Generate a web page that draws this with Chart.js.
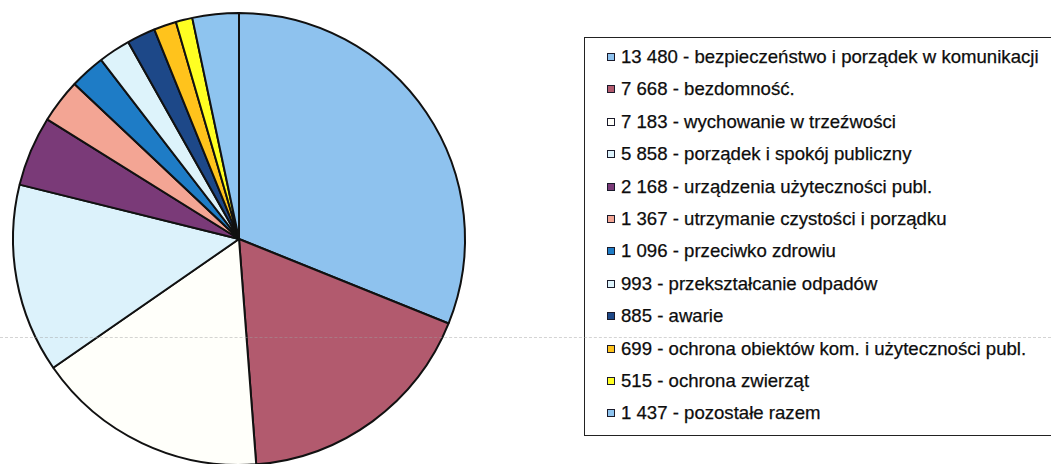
<!DOCTYPE html>
<html>
<head>
<meta charset="utf-8">
<script src="https://cdn.jsdelivr.net/npm/chart.js@4.4.1/dist/chart.umd.min.js"></script>
<style>
  html, body { margin: 0; padding: 0; background: #ffffff; overflow: hidden; width: 1051px; height: 464px; }
  #pieWrap { position: absolute; left: 0; top: 0; width: 478px; height: 472px; }
  #legend { position: absolute; left: 584px; top: 37px; width: 490px; height: 399px;
            border: 1.5px solid #222; box-sizing: border-box; background: #fff;
            font-family: "Liberation Sans", Arial, sans-serif; font-size: 18.6px; color: #0d0d0d;
            -webkit-text-stroke: 0.25px #0d0d0d; }
  .row { position: absolute; left: 0; height: 22px; display: flex; align-items: center; white-space: nowrap; }
  .sw { width: 6px; height: 6px; border: 1.6px solid #1a1a2a; margin-left: 22px; margin-right: 6px; }
  #scanline { position: absolute; left: 0; top: 337px; width: 1051px; height: 0; border-top: 1px dashed rgba(160,160,160,0.45); pointer-events: none; }
</style>
</head>
<body>
<div id="pieWrap"><canvas id="c"></canvas></div>
<div id="legend"></div>
<div id="scanline"></div>
<script>
const categories = [
  "bezpieczeństwo i porządek w komunikacji",
  "bezdomność.",
  "wychowanie w trzeźwości",
  "porządek i spokój publiczny",
  "urządzenia użyteczności publ.",
  "utrzymanie czystości i porządku",
  "przeciwko zdrowiu",
  "przekształcanie odpadów",
  "awarie",
  "ochrona obiektów kom. i użyteczności publ.",
  "ochrona zwierząt",
  "pozostałe razem"
];
const values = [13480, 7668, 7183, 5858, 2168, 1367, 1096, 993, 885, 699, 515, 1437];
const valueLabels = ["13 480", "7 668", "7 183", "5 858", "2 168", "1 367", "1 096", "993", "885", "699", "515", "1 437"];
const colors = ["#8ec2ee", "#b25a6e", "#fffffa", "#dcf2fb", "#7a3a78", "#f3a594", "#1e7cc6", "#ddf3fb", "#1d4888", "#ffc31c", "#ffff22", "#8ec4ef"];

new Chart(document.getElementById('c'), {
  type: 'pie',
  data: {
    labels: categories,
    datasets: [{
      data: values,
      backgroundColor: colors,
      borderColor: '#111111',
      borderWidth: 2
    }]
  },
  options: {
    responsive: true,
    maintainAspectRatio: false,
    animation: false,
    layout: { padding: { left: 12, right: 12, top: 12, bottom: 6 } },
    plugins: { legend: { display: false }, tooltip: { enabled: false } }
  }
});

const legend = document.getElementById('legend');
const rowTop0 = 8, rowStep = 32.4;
categories.forEach((cat, i) => {
  const r = document.createElement('div');
  r.className = 'row';
  r.style.top = (rowTop0 + i * rowStep) + 'px';
  const sw = document.createElement('span');
  sw.className = 'sw';
  sw.style.background = colors[i];
  const t = document.createElement('span');
  t.textContent = valueLabels[i] + ' - ' + cat;
  r.appendChild(sw); r.appendChild(t);
  legend.appendChild(r);
});
</script>
</body>
</html>
